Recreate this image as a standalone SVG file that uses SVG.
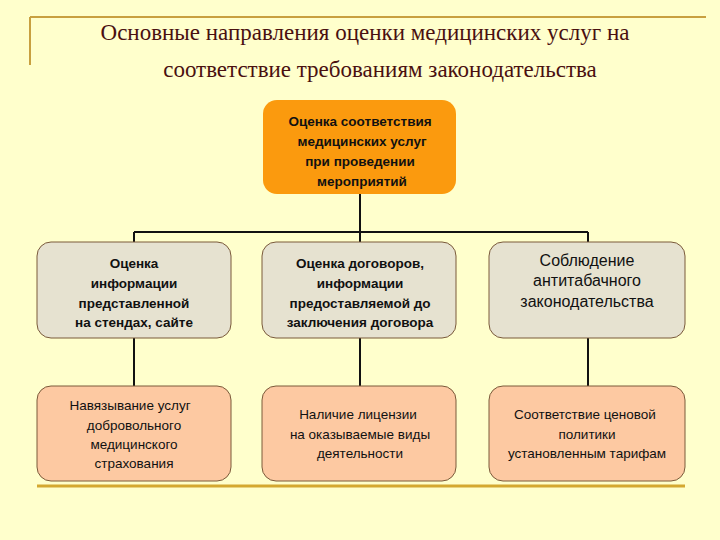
<svg xmlns="http://www.w3.org/2000/svg" width="720" height="540" viewBox="0 0 720 540">
<style>
.t{font-family:"Liberation Serif",serif;font-size:23px;fill:#4a1010;text-anchor:middle}
.b{font-family:"Liberation Sans",Arial,sans-serif;font-size:13.5px;text-anchor:middle;fill:#111}
.bb{font-weight:bold}
.g{fill:#e6e2d0;stroke:#7a5a3a;stroke-width:1}
.o{fill:#fdc9a2;stroke:#7a5a3a;stroke-width:1}
.c{stroke:#111;stroke-width:2;fill:none}
</style>
<rect width="720" height="540" fill="#ffffcc"/>
<line x1="30" y1="17" x2="706" y2="17" stroke="#c8a040" stroke-width="2"/>
<line x1="30" y1="17" x2="30" y2="65" stroke="#c8a040" stroke-width="2"/>
<line x1="37" y1="486" x2="685" y2="486" stroke="#d4a830" stroke-width="3"/>
<text class="t" x="365" y="40">Основные направления оценки медицинских услуг на</text>
<text class="t" x="380" y="77">соответствие требованиям законодательства</text>
<g id="connectors">
<path class="c" d="M360 194V232M134 232H588M134 232V242M360 232V242M588 232V242"/>
<path class="c" d="M134 338V386M360 338V386M588 338V386"/>
</g>
<g id="top"><rect x="263" y="100" width="193" height="94" rx="14" fill="#fb9a0e"/>
<text class="b bb" x="360" y="126">Оценка соответствия</text><text class="b bb" x="362" y="146">медицинских услуг</text><text class="b bb" x="360" y="166">при проведении</text><text class="b bb" x="362" y="186">мероприятий</text></g>
<g id="n1"><rect class="g" x="37" y="242" width="194" height="96" rx="14"/>
<text class="b bb" x="134" y="268">Оценка</text><text class="b bb" x="134" y="288">информации</text><text class="b bb" x="134" y="308">представленной</text><text class="b bb" x="134" y="327">на стендах, сайте</text></g>
<g id="n2"><rect class="g" x="262" y="242" width="194" height="96" rx="14"/>
<text class="b bb" x="360" y="268">Оценка договоров,</text><text class="b bb" x="360" y="288">информации</text><text class="b bb" x="360" y="308">предоставляемой до</text><text class="b bb" x="360" y="327">заключения договора</text></g>
<g id="n3"><rect class="g" x="489" y="242" width="196" height="96" rx="14"/>
<text class="b" style="font-size:16px" x="587" y="266">Соблюдение</text><text class="b" style="font-size:16px" x="587" y="286">антитабачного</text><text class="b" style="font-size:16px" x="587" y="307">законодательства</text></g>
<g id="n4"><rect class="o" x="37" y="386" width="194" height="95" rx="14"/>
<text class="b" x="130" y="410">Навязывание услуг</text><text class="b" x="134" y="430">добровольного</text><text class="b" x="134" y="449">медицинского</text><text class="b" x="134" y="468">страхования</text></g>
<g id="n5"><rect class="o" x="262" y="386" width="194" height="95" rx="14"/>
<text class="b" x="358" y="419">Наличие лицензии</text><text class="b" x="360" y="439">на оказываемые виды</text><text class="b" x="360" y="458">деятельности</text></g>
<g id="n6"><rect class="o" x="489" y="386" width="196" height="95" rx="14"/>
<text class="b" x="585" y="419">Соответствие ценовой</text><text class="b" x="587" y="439">политики</text><text class="b" x="587" y="458">установленным тарифам</text></g>
</svg>
